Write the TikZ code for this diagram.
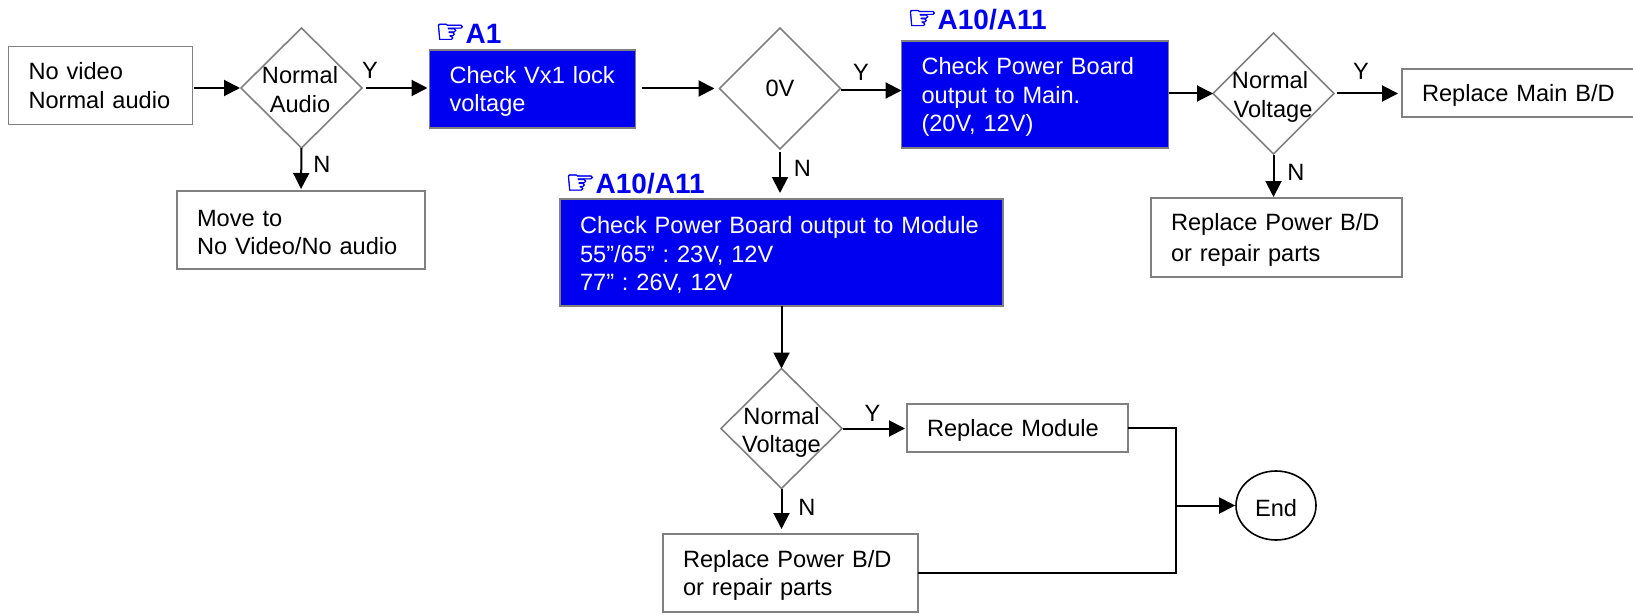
\documentclass[tikz,border=0pt]{standalone}
\usepackage{fontspec}
\setmainfont{Liberation Sans}
\newfontfamily\symfont[RawFeature={embolden=1.5}]{DejaVu Sans}
\usetikzlibrary{shapes.geometric,arrows.meta}
\definecolor{edgegray}{HTML}{808080}
\definecolor{fillblue}{HTML}{0000F0}
\definecolor{refblue}{HTML}{0000F0}
\newcommand{\tl}[1]{\raisebox{-2.5pt}[\height][\depth]{#1}}
\frenchspacing
\tikzset{
  base/.style={font=\fontsize{23.6}{28.5}\selectfont,text=black},
  wbox/.style={base,draw=edgegray,line width=1.8pt,fill=white,rectangle,inner xsep=20pt,inner ysep=0pt,outer sep=0pt,align=left},
  bbox/.style={wbox,fill=fillblue,text=white},
  dia/.style={draw=edgegray,line width=1.6pt,fill=white,diamond,aspect=1,inner sep=0pt,outer sep=0pt},
  lbl/.style={base,inner sep=0pt,align=center},
  ref/.style={font=\fontsize{28}{32}\selectfont\bfseries,text=refblue,inner sep=0pt,anchor=west},
  conn/.style={line width=2pt,draw=black},
  arr/.style={conn,-{Triangle[length=16pt,width=16pt]}},
}
\newcommand{\hand}{\smash{\symfont\fontsize{34}{34}\selectfont\mdseries ☞}}
\begin{document}
\begin{tikzpicture}[x=1pt,y=-1pt]
\useasboundingbox (0,0) rectangle (1633,615);
% boxes
\node[wbox,text width=144pt,minimum height=78pt] (start) at (100.5,85.5) {\mbox{No video}\\\mbox{Normal audio}};
\node[wbox,text width=208pt,minimum height=78pt] (moveto) at (301,230) {\tl{Move to}\\\tl{No Video/No audio}};
\node[bbox,text width=166pt,minimum height=78pt] (vx) at (532.5,89) {\tl{Check Vx1 lock}\\\tl{voltage}};
\node[bbox,text width=227pt,minimum height=107pt] (pmain) at (1035,94.5) {\tl{Check Power Board}\\\tl{output to Main.}\\\tl{(20V, 12V)}};
\node[bbox,text width=403pt,minimum height=107pt] (pmod) at (781.5,252.5) {\tl{Check Power Board output to Module}\\\tl{55”/65” : 23V, 12V}\\\tl{77” : 26V, 12V}};
\node[wbox,text width=192pt,minimum height=48pt] (rmain) at (1518,93) {\tl{Replace Main B/D}};
\node[wbox,text width=211pt,minimum height=79pt] (rp1) at (1276.5,237.5) {\tl{Replace Power B/D}\\[2pt]\tl{or repair parts}};
\node[wbox,text width=181pt,minimum height=48pt] (rmod) at (1017.5,428) {\tl{Replace Module}};
\node[wbox,text width=215pt,minimum height=78pt] (rp2) at (790.5,573) {\tl{Replace Power B/D}\\\tl{or repair parts}};
\node[base,draw=black,line width=1.6pt,fill=white,ellipse,inner sep=0pt,minimum width=80pt,minimum height=69pt] (end) at (1276,505.5) {\tl{End}};
% diamonds
\node[dia,minimum width=121pt,minimum height=120pt] (d1) at (301.5,88) {};
\node[dia,minimum width=121pt,minimum height=121pt] (d2) at (780,88.5) {};
\node[dia,minimum width=121pt,minimum height=121pt] (d3) at (1273.5,93.5) {};
\node[dia,minimum width=121pt,minimum height=120pt] (d4) at (781.5,428.5) {};
\node[lbl] (t1) at (300,89.5) {Normal\\Audio};
\node[lbl] (t2) at (780,88.5) {0V};
\node[lbl] (t3) at (1273,97) {Normal\kern6pt\\Voltage};
\node[lbl] (t4) at (781.5,432.5) {Normal\\Voltage};
% reference labels
\node[ref] (r1) at (435,33.5) {\hand A1};
\node[ref] (r2) at (907,19.5) {\hand A10/A11};
\node[ref] (r3) at (565,184) {\hand A10/A11};
% branch labels
\node[lbl] (y1) at (370,70) {Y};
\node[lbl] (n1) at (322,164) {N};
\node[lbl] (y2) at (861,72) {Y};
\node[lbl] (n2) at (802.5,168) {N};
\node[lbl] (y3) at (1361,71) {Y};
\node[lbl] (n3) at (1296,172) {N};
\node[lbl] (y4) at (872.5,413) {Y};
\node[lbl] (n4) at (807,507) {N};
% connectors
\coordinate (mergeup) at (1176,428);
\coordinate (mergelow) at (1176,573);
\coordinate (merge) at (1176,505.5);
\coordinate (d2out) at ([yshift=-2pt]d2.east);
\draw[arr,shorten <=1pt,shorten >=1pt] (start.east |- d1.west) -- (d1.west);
\draw[arr,shorten <=4pt,shorten >=2pt] (d1.east) -- (vx.west |- d1.east);
\draw[arr,shorten >=2pt] (d1.south) -- (moveto.north);
\draw[arr,shorten <=6pt,shorten >=5pt] (vx.east |- d2.west) -- (d2.west);
\draw[arr] (d2out) -- (pmain.west |- d2out);
\draw[arr,shorten <=3pt,shorten >=6pt] (d2.south) -- (pmod.north -| d2.south);
\draw[arr,shorten >=0pt] (pmain.east |- d3.west) -- (d3.west);
\draw[arr,shorten <=3pt,shorten >=4pt] (d3.east) -- (rmain.west |- d3.east);
\draw[arr,shorten <=1pt,shorten >=1pt] (d3.south) -- (rp1.north -| d3.south);
\draw[arr] (pmod.south -| d4.north) -- (d4.north);
\draw[arr,shorten <=1pt,shorten >=2pt] (d4.east) -- (rmod.west |- d4.east);
\draw[arr,shorten >=5pt] (d4.south) -- (rp2.north -| d4.south);
\draw[conn] (rmod.east) -- (mergeup) -- (mergelow) -- (rp2.east);
\draw[arr,shorten >=0pt] (merge) -- (end.west);
\end{tikzpicture}
\end{document}
